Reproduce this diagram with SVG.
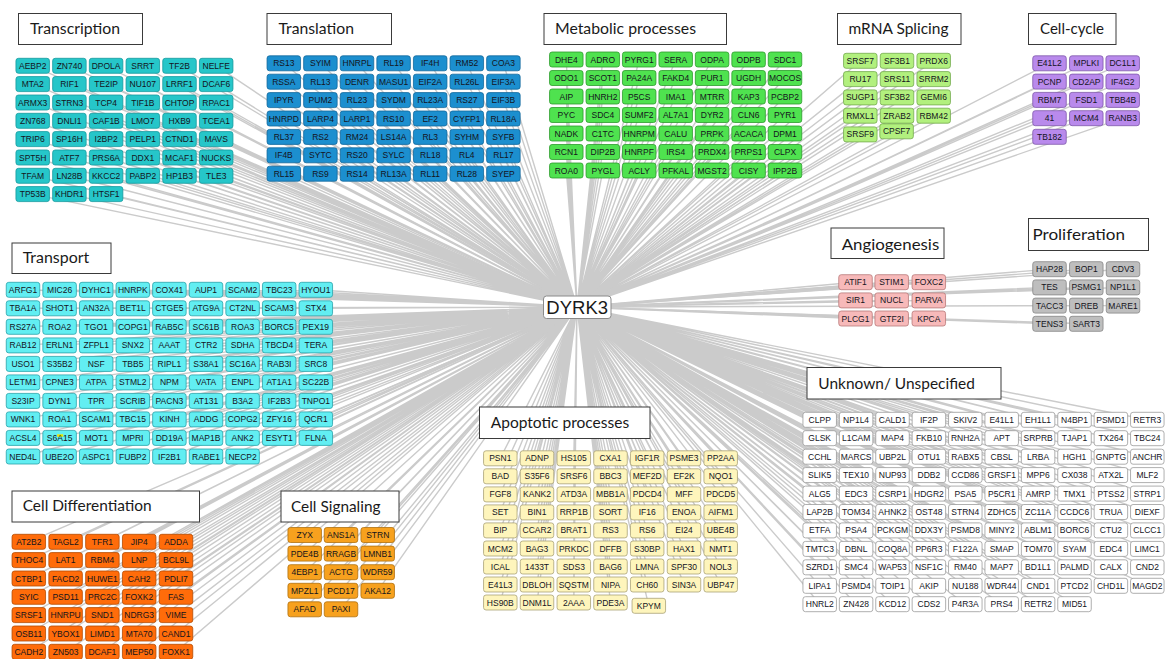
<svg xmlns="http://www.w3.org/2000/svg" xmlns:xlink="http://www.w3.org/1999/xlink" width="1166" height="659" viewBox="0 0 1166 659">
<style>
.edges path{fill:none;stroke:#cbcbcb;stroke-width:1.4}
.nodes use{stroke-width:0.8}
.nodes text{font-family:"Liberation Sans",Arial,sans-serif;font-size:8.5px;fill:#14141c;stroke:none;text-anchor:middle}
.tc{fill:#26c6c9;stroke:#159a9e}
.tl{fill:#1c8fcf;stroke:#11679a}
.mb{fill:#4fe24f;stroke:#2c9b2c}
.sp{fill:#b2f07e;stroke:#74aa4e}
.cc{fill:#b98aec;stroke:#7e58aa}
.tp{fill:#62eef2;stroke:#2aa2aa}
.cd{fill:#ff6c0a;stroke:#b44a00}
.cs{fill:#f7a11e;stroke:#b0700e}
.an{fill:#f7b9b9;stroke:#b77878}
.pr{fill:#bebebe;stroke:#858585}
.ap{fill:#fef5bc;stroke:#a9a277}
.un{fill:#ffffff;stroke:#9a9a9a}
.title rect{fill:#fff;stroke:#3a3a3a;stroke-width:1}
.title text{font-family:Lato,"Liberation Sans",sans-serif;font-size:16px;fill:#1a1a1a}
#hub rect{fill:#fff;stroke:#8a8a8a;stroke-width:1}
#hub text{font-family:"Liberation Sans",Arial,sans-serif;font-size:18.5px;fill:#1a1a1a;text-anchor:middle}
</style>
<defs>
<rect id="b" x="-16.75" y="-7.5" width="33.5" height="15" rx="2.5"/>
</defs>
<rect width="1166" height="659" fill="#fff"/>

<!-- spokes from DYRK3 to every protein -->
<g class="edges">
<path d="M577 307L32.7 65.8M577 307L69.4 65.8M577 307L106.1 65.8M577 307L142.8 65.8M577 307L179.5 65.8M577 307L216.2 65.8M577 307L32.7 84.1M577 307L69.4 84.1M577 307L106.1 84.1M577 307L142.8 84.1M577 307L179.5 84.1M577 307L216.2 84.1M577 307L32.7 102.5M577 307L69.4 102.5M577 307L106.1 102.5M577 307L142.8 102.5M577 307L179.5 102.5M577 307L216.2 102.5M577 307L32.7 120.8M577 307L69.4 120.8M577 307L106.1 120.8M577 307L142.8 120.8M577 307L179.5 120.8M577 307L216.2 120.8M577 307L32.7 139.1M577 307L69.4 139.1M577 307L106.1 139.1M577 307L142.8 139.1M577 307L179.5 139.1M577 307L216.2 139.1M577 307L32.7 157.5M577 307L69.4 157.5M577 307L106.1 157.5M577 307L142.8 157.5M577 307L179.5 157.5M577 307L216.2 157.5M577 307L32.7 175.8M577 307L69.4 175.8M577 307L106.1 175.8M577 307L142.8 175.8M577 307L179.5 175.8M577 307L216.2 175.8M577 307L32.7 194.1M577 307L69.4 194.1M577 307L106.1 194.1"/>
<path d="M577 307L283.8 63.3M577 307L320.4 63.3M577 307L357 63.3M577 307L393.6 63.3M577 307L430.2 63.3M577 307L466.8 63.3M577 307L503.4 63.3M577 307L283.8 81.7M577 307L320.4 81.7M577 307L357 81.7M577 307L393.6 81.7M577 307L430.2 81.7M577 307L466.8 81.7M577 307L503.4 81.7M577 307L283.8 100.1M577 307L320.4 100.1M577 307L357 100.1M577 307L393.6 100.1M577 307L430.2 100.1M577 307L466.8 100.1M577 307L503.4 100.1M577 307L283.8 118.5M577 307L320.4 118.5M577 307L357 118.5M577 307L393.6 118.5M577 307L430.2 118.5M577 307L466.8 118.5M577 307L503.4 118.5M577 307L283.8 136.9M577 307L320.4 136.9M577 307L357 136.9M577 307L393.6 136.9M577 307L430.2 136.9M577 307L466.8 136.9M577 307L503.4 136.9M577 307L283.8 155.3M577 307L320.4 155.3M577 307L357 155.3M577 307L393.6 155.3M577 307L430.2 155.3M577 307L466.8 155.3M577 307L503.4 155.3M577 307L283.8 173.7M577 307L320.4 173.7M577 307L357 173.7M577 307L393.6 173.7M577 307L430.2 173.7M577 307L466.8 173.7M577 307L503.4 173.7"/>
<path d="M577 307L566.3 59.5M577 307L602.8 59.5M577 307L639.2 59.5M577 307L675.7 59.5M577 307L712.1 59.5M577 307L748.6 59.5M577 307L785 59.5M577 307L566.3 78M577 307L602.8 78M577 307L639.2 78M577 307L675.7 78M577 307L712.1 78M577 307L748.6 78M577 307L785 78M577 307L566.3 96.5M577 307L602.8 96.5M577 307L639.2 96.5M577 307L675.7 96.5M577 307L712.1 96.5M577 307L748.6 96.5M577 307L785 96.5M577 307L566.3 115M577 307L602.8 115M577 307L639.2 115M577 307L675.7 115M577 307L712.1 115M577 307L748.6 115M577 307L785 115M577 307L566.3 133.5M577 307L602.8 133.5M577 307L639.2 133.5M577 307L675.7 133.5M577 307L712.1 133.5M577 307L748.6 133.5M577 307L785 133.5M577 307L566.3 152M577 307L602.8 152M577 307L639.2 152M577 307L675.7 152M577 307L712.1 152M577 307L748.6 152M577 307L785 152M577 307L566.3 170.5M577 307L602.8 170.5M577 307L639.2 170.5M577 307L675.7 170.5M577 307L712.1 170.5M577 307L748.6 170.5M577 307L785 170.5"/>
<path d="M577 307L860.3 60.8M577 307L897 60.8M577 307L933.7 60.8M577 307L860.3 79.1M577 307L897 79.1M577 307L933.7 79.1M577 307L860.3 97.4M577 307L897 97.4M577 307L933.7 97.4M577 307L860.3 115.7M577 307L897 115.7M577 307L933.7 115.7M577 307L860.3 134.4M577 307L896.6 131.3"/>
<path d="M577 307L1049.5 63.3M577 307L1086.3 63.3M577 307L1122.7 63.3M577 307L1049.5 81.6M577 307L1086.3 81.6M577 307L1122.7 81.6M577 307L1049.5 99.9M577 307L1086.3 99.9M577 307L1122.7 99.9M577 307L1049.5 118.2M577 307L1086.3 118.2M577 307L1122.7 118.2M577 307L1049.5 136.8"/>
<path d="M577 307L23 289.8M577 307L59.6 289.8M577 307L96.2 289.8M577 307L132.8 289.8M577 307L169.4 289.8M577 307L206 289.8M577 307L242.6 289.8M577 307L279.2 289.8M577 307L315.8 289.8M577 307L23 308.3M577 307L59.6 308.3M577 307L96.2 308.3M577 307L132.8 308.3M577 307L169.4 308.3M577 307L206 308.3M577 307L242.6 308.3M577 307L279.2 308.3M577 307L315.8 308.3M577 307L23 326.8M577 307L59.6 326.8M577 307L96.2 326.8M577 307L132.8 326.8M577 307L169.4 326.8M577 307L206 326.8M577 307L242.6 326.8M577 307L279.2 326.8M577 307L315.8 326.8M577 307L23 345.4M577 307L59.6 345.4M577 307L96.2 345.4M577 307L132.8 345.4M577 307L169.4 345.4M577 307L206 345.4M577 307L242.6 345.4M577 307L279.2 345.4M577 307L315.8 345.4M577 307L23 363.9M577 307L59.6 363.9M577 307L96.2 363.9M577 307L132.8 363.9M577 307L169.4 363.9M577 307L206 363.9M577 307L242.6 363.9M577 307L279.2 363.9M577 307L315.8 363.9M577 307L23 382.4M577 307L59.6 382.4M577 307L96.2 382.4M577 307L132.8 382.4M577 307L169.4 382.4M577 307L206 382.4M577 307L242.6 382.4M577 307L279.2 382.4M577 307L315.8 382.4M577 307L23 400.9M577 307L59.6 400.9M577 307L96.2 400.9M577 307L132.8 400.9M577 307L169.4 400.9M577 307L206 400.9M577 307L242.6 400.9M577 307L279.2 400.9M577 307L315.8 400.9M577 307L23 419.4M577 307L59.6 419.4M577 307L96.2 419.4M577 307L132.8 419.4M577 307L169.4 419.4M577 307L206 419.4M577 307L242.6 419.4M577 307L279.2 419.4M577 307L315.8 419.4M577 307L23 437.9M577 307L59.6 437.9M577 307L96.2 437.9M577 307L132.8 437.9M577 307L169.4 437.9M577 307L206 437.9M577 307L242.6 437.9M577 307L279.2 437.9M577 307L315.8 437.9M577 307L23 456.5M577 307L59.6 456.5M577 307L96.2 456.5M577 307L132.8 456.5M577 307L169.4 456.5M577 307L206 456.5M577 307L242.6 456.5"/>
<path d="M577 307L28.8 541.8M577 307L65.6 541.8M577 307L102.4 541.8M577 307L139.2 541.8M577 307L176 541.8M577 307L28.8 560.1M577 307L65.6 560.1M577 307L102.4 560.1M577 307L139.2 560.1M577 307L176 560.1M577 307L28.8 578.5M577 307L65.6 578.5M577 307L102.4 578.5M577 307L139.2 578.5M577 307L176 578.5M577 307L28.8 596.8M577 307L65.6 596.8M577 307L102.4 596.8M577 307L139.2 596.8M577 307L176 596.8M577 307L28.8 615.1M577 307L65.6 615.1M577 307L102.4 615.1M577 307L139.2 615.1M577 307L176 615.1M577 307L28.8 633.5M577 307L65.6 633.5M577 307L102.4 633.5M577 307L139.2 633.5M577 307L176 633.5M577 307L28.8 651.8M577 307L65.6 651.8M577 307L102.4 651.8M577 307L139.2 651.8M577 307L176 651.8"/>
<path d="M577 307L304.7 535M577 307L341 535M577 307L377.7 535M577 307L304.7 553.6M577 307L341 553.6M577 307L377.7 553.6M577 307L304.7 572.2M577 307L341 572.2M577 307L377.7 572.2M577 307L304.7 590.8M577 307L341 590.8M577 307L377.7 590.8M577 307L304.7 609.3M577 307L341 609.3"/>
<path d="M577 307L855.5 282.2M577 307L891.7 282.2M577 307L928.8 282.2M577 307L855.5 300.4M577 307L891.7 300.4M577 307L928.8 300.4M577 307L855.5 318.5M577 307L891.7 318.5M577 307L928.8 318.5"/>
<path d="M577 307L1049.5 269.2M577 307L1086.3 269.2M577 307L1123 269.2M577 307L1049.5 287.4M577 307L1086.3 287.4M577 307L1123 287.4M577 307L1049.5 305.6M577 307L1086.3 305.6M577 307L1123 305.6M577 307L1049.5 323.8M577 307L1086.3 323.8"/>
<path d="M577 307L500.3 458.3M577 307L537 458.3M577 307L573.8 458.3M577 307L610.5 458.3M577 307L647.2 458.3M577 307L684 458.3M577 307L720.7 458.3M577 307L500.3 476.3M577 307L537 476.3M577 307L573.8 476.3M577 307L610.5 476.3M577 307L647.2 476.3M577 307L684 476.3M577 307L720.7 476.3M577 307L500.3 494.4M577 307L537 494.4M577 307L573.8 494.4M577 307L610.5 494.4M577 307L647.2 494.4M577 307L684 494.4M577 307L720.7 494.4M577 307L500.3 512.4M577 307L537 512.4M577 307L573.8 512.4M577 307L610.5 512.4M577 307L647.2 512.4M577 307L684 512.4M577 307L720.7 512.4M577 307L500.3 530.4M577 307L537 530.4M577 307L573.8 530.4M577 307L610.5 530.4M577 307L647.2 530.4M577 307L684 530.4M577 307L720.7 530.4M577 307L500.3 548.5M577 307L537 548.5M577 307L573.8 548.5M577 307L610.5 548.5M577 307L647.2 548.5M577 307L684 548.5M577 307L720.7 548.5M577 307L500.3 566.5M577 307L537 566.5M577 307L573.8 566.5M577 307L610.5 566.5M577 307L647.2 566.5M577 307L684 566.5M577 307L720.7 566.5M577 307L500.3 584.5M577 307L537 584.5M577 307L573.8 584.5M577 307L610.5 584.5M577 307L647.2 584.5M577 307L684 584.5M577 307L720.7 584.5M577 307L500.3 602.5M577 307L537 602.5M577 307L573.8 602.5M577 307L610.5 602.5M577 307L648.8 605.8"/>
<path d="M577 307L819.7 419.8M577 307L856.1 419.8M577 307L892.5 419.8M577 307L928.9 419.8M577 307L965.3 419.8M577 307L1001.7 419.8M577 307L1038.1 419.8M577 307L1074.5 419.8M577 307L1110.9 419.8M577 307L1147.3 419.8M577 307L819.7 438.2M577 307L856.1 438.2M577 307L892.5 438.2M577 307L928.9 438.2M577 307L965.3 438.2M577 307L1001.7 438.2M577 307L1038.1 438.2M577 307L1074.5 438.2M577 307L1110.9 438.2M577 307L1147.3 438.2M577 307L819.7 456.7M577 307L856.1 456.7M577 307L892.5 456.7M577 307L928.9 456.7M577 307L965.3 456.7M577 307L1001.7 456.7M577 307L1038.1 456.7M577 307L1074.5 456.7M577 307L1110.9 456.7M577 307L1147.3 456.7M577 307L819.7 475.1M577 307L856.1 475.1M577 307L892.5 475.1M577 307L928.9 475.1M577 307L965.3 475.1M577 307L1001.7 475.1M577 307L1038.1 475.1M577 307L1074.5 475.1M577 307L1110.9 475.1M577 307L1147.3 475.1M577 307L819.7 493.6M577 307L856.1 493.6M577 307L892.5 493.6M577 307L928.9 493.6M577 307L965.3 493.6M577 307L1001.7 493.6M577 307L1038.1 493.6M577 307L1074.5 493.6M577 307L1110.9 493.6M577 307L1147.3 493.6M577 307L819.7 512M577 307L856.1 512M577 307L892.5 512M577 307L928.9 512M577 307L965.3 512M577 307L1001.7 512M577 307L1038.1 512M577 307L1074.5 512M577 307L1110.9 512M577 307L1147.3 512M577 307L819.7 530.4M577 307L856.1 530.4M577 307L892.5 530.4M577 307L928.9 530.4M577 307L965.3 530.4M577 307L1001.7 530.4M577 307L1038.1 530.4M577 307L1074.5 530.4M577 307L1110.9 530.4M577 307L1147.3 530.4M577 307L819.7 548.9M577 307L856.1 548.9M577 307L892.5 548.9M577 307L928.9 548.9M577 307L965.3 548.9M577 307L1001.7 548.9M577 307L1038.1 548.9M577 307L1074.5 548.9M577 307L1110.9 548.9M577 307L1147.3 548.9M577 307L819.7 567.3M577 307L856.1 567.3M577 307L892.5 567.3M577 307L928.9 567.3M577 307L965.3 567.3M577 307L1001.7 567.3M577 307L1038.1 567.3M577 307L1074.5 567.3M577 307L1110.9 567.3M577 307L1147.3 567.3M577 307L819.7 585.8M577 307L856.1 585.8M577 307L892.5 585.8M577 307L928.9 585.8M577 307L965.3 585.8M577 307L1001.7 585.8M577 307L1038.1 585.8M577 307L1074.5 585.8M577 307L1110.9 585.8M577 307L1147.3 585.8M577 307L819.7 604.2M577 307L856.1 604.2M577 307L892.5 604.2M577 307L928.9 604.2M577 307L965.3 604.2M577 307L1001.7 604.2M577 307L1038.1 604.2M577 307L1074.5 604.2"/>
</g>

<g class="nodes">
<!-- Transcription -->
<g class="tc">
<g id="n-AEBP2" transform="translate(32.7 65.8)"><use href="#b"/><text y="3">AEBP2</text></g>
<g id="n-ZN740" transform="translate(69.4 65.8)"><use href="#b"/><text y="3">ZN740</text></g>
<g id="n-DPOLA" transform="translate(106.1 65.8)"><use href="#b"/><text y="3">DPOLA</text></g>
<g id="n-SRRT" transform="translate(142.8 65.8)"><use href="#b"/><text y="3">SRRT</text></g>
<g id="n-TF2B" transform="translate(179.5 65.8)"><use href="#b"/><text y="3">TF2B</text></g>
<g id="n-NELFE" transform="translate(216.2 65.8)"><use href="#b"/><text y="3">NELFE</text></g>
<g id="n-MTA2" transform="translate(32.7 84.1)"><use href="#b"/><text y="3">MTA2</text></g>
<g id="n-RIF1" transform="translate(69.4 84.1)"><use href="#b"/><text y="3">RIF1</text></g>
<g id="n-TE2IP" transform="translate(106.1 84.1)"><use href="#b"/><text y="3">TE2IP</text></g>
<g id="n-NU107" transform="translate(142.8 84.1)"><use href="#b"/><text y="3">NU107</text></g>
<g id="n-LRRF1" transform="translate(179.5 84.1)"><use href="#b"/><text y="3">LRRF1</text></g>
<g id="n-DCAF6" transform="translate(216.2 84.1)"><use href="#b"/><text y="3">DCAF6</text></g>
<g id="n-ARMX3" transform="translate(32.7 102.5)"><use href="#b"/><text y="3">ARMX3</text></g>
<g id="n-STRN3" transform="translate(69.4 102.5)"><use href="#b"/><text y="3">STRN3</text></g>
<g id="n-TCP4" transform="translate(106.1 102.5)"><use href="#b"/><text y="3">TCP4</text></g>
<g id="n-TIF1B" transform="translate(142.8 102.5)"><use href="#b"/><text y="3">TIF1B</text></g>
<g id="n-CHTOP" transform="translate(179.5 102.5)"><use href="#b"/><text y="3">CHTOP</text></g>
<g id="n-RPAC1" transform="translate(216.2 102.5)"><use href="#b"/><text y="3">RPAC1</text></g>
<g id="n-ZN768" transform="translate(32.7 120.8)"><use href="#b"/><text y="3">ZN768</text></g>
<g id="n-DNLI1" transform="translate(69.4 120.8)"><use href="#b"/><text y="3">DNLI1</text></g>
<g id="n-CAF1B" transform="translate(106.1 120.8)"><use href="#b"/><text y="3">CAF1B</text></g>
<g id="n-LMO7" transform="translate(142.8 120.8)"><use href="#b"/><text y="3">LMO7</text></g>
<g id="n-HXB9" transform="translate(179.5 120.8)"><use href="#b"/><text y="3">HXB9</text></g>
<g id="n-TCEA1" transform="translate(216.2 120.8)"><use href="#b"/><text y="3">TCEA1</text></g>
<g id="n-TRIP6" transform="translate(32.7 139.1)"><use href="#b"/><text y="3">TRIP6</text></g>
<g id="n-SP16H" transform="translate(69.4 139.1)"><use href="#b"/><text y="3">SP16H</text></g>
<g id="n-I2BP2" transform="translate(106.1 139.1)"><use href="#b"/><text y="3">I2BP2</text></g>
<g id="n-PELP1" transform="translate(142.8 139.1)"><use href="#b"/><text y="3">PELP1</text></g>
<g id="n-CTND1" transform="translate(179.5 139.1)"><use href="#b"/><text y="3">CTND1</text></g>
<g id="n-MAVS" transform="translate(216.2 139.1)"><use href="#b"/><text y="3">MAVS</text></g>
<g id="n-SPT5H" transform="translate(32.7 157.5)"><use href="#b"/><text y="3">SPT5H</text></g>
<g id="n-ATF7" transform="translate(69.4 157.5)"><use href="#b"/><text y="3">ATF7</text></g>
<g id="n-PRS6A" transform="translate(106.1 157.5)"><use href="#b"/><text y="3">PRS6A</text></g>
<g id="n-DDX1" transform="translate(142.8 157.5)"><use href="#b"/><text y="3">DDX1</text></g>
<g id="n-MCAF1" transform="translate(179.5 157.5)"><use href="#b"/><text y="3">MCAF1</text></g>
<g id="n-NUCKS" transform="translate(216.2 157.5)"><use href="#b"/><text y="3">NUCKS</text></g>
<g id="n-TFAM" transform="translate(32.7 175.8)"><use href="#b"/><text y="3">TFAM</text></g>
<g id="n-LN28B" transform="translate(69.4 175.8)"><use href="#b"/><text y="3">LN28B</text></g>
<g id="n-KKCC2" transform="translate(106.1 175.8)"><use href="#b"/><text y="3">KKCC2</text></g>
<g id="n-PABP2" transform="translate(142.8 175.8)"><use href="#b"/><text y="3">PABP2</text></g>
<g id="n-HP1B3" transform="translate(179.5 175.8)"><use href="#b"/><text y="3">HP1B3</text></g>
<g id="n-TLE3" transform="translate(216.2 175.8)"><use href="#b"/><text y="3">TLE3</text></g>
<g id="n-TP53B" transform="translate(32.7 194.1)"><use href="#b"/><text y="3">TP53B</text></g>
<g id="n-KHDR1" transform="translate(69.4 194.1)"><use href="#b"/><text y="3">KHDR1</text></g>
<g id="n-HTSF1" transform="translate(106.1 194.1)"><use href="#b"/><text y="3">HTSF1</text></g>
</g>

<!-- Translation -->
<g class="tl">
<g id="n-RS13" transform="translate(283.8 63.3)"><use href="#b"/><text y="3">RS13</text></g>
<g id="n-SYIM" transform="translate(320.4 63.3)"><use href="#b"/><text y="3">SYIM</text></g>
<g id="n-HNRPL" transform="translate(357 63.3)"><use href="#b"/><text y="3">HNRPL</text></g>
<g id="n-RL19" transform="translate(393.6 63.3)"><use href="#b"/><text y="3">RL19</text></g>
<g id="n-IF4H" transform="translate(430.2 63.3)"><use href="#b"/><text y="3">IF4H</text></g>
<g id="n-RM52" transform="translate(466.8 63.3)"><use href="#b"/><text y="3">RM52</text></g>
<g id="n-COA3" transform="translate(503.4 63.3)"><use href="#b"/><text y="3">COA3</text></g>
<g id="n-RSSA" transform="translate(283.8 81.7)"><use href="#b"/><text y="3">RSSA</text></g>
<g id="n-RL13" transform="translate(320.4 81.7)"><use href="#b"/><text y="3">RL13</text></g>
<g id="n-DENR" transform="translate(357 81.7)"><use href="#b"/><text y="3">DENR</text></g>
<g id="n-MASU1" transform="translate(393.6 81.7)"><use href="#b"/><text y="3">MASU1</text></g>
<g id="n-EIF2A" transform="translate(430.2 81.7)"><use href="#b"/><text y="3">EIF2A</text></g>
<g id="n-RL26L" transform="translate(466.8 81.7)"><use href="#b"/><text y="3">RL26L</text></g>
<g id="n-EIF3A" transform="translate(503.4 81.7)"><use href="#b"/><text y="3">EIF3A</text></g>
<g id="n-IPYR" transform="translate(283.8 100.1)"><use href="#b"/><text y="3">IPYR</text></g>
<g id="n-PUM2" transform="translate(320.4 100.1)"><use href="#b"/><text y="3">PUM2</text></g>
<g id="n-RL23" transform="translate(357 100.1)"><use href="#b"/><text y="3">RL23</text></g>
<g id="n-SYDM" transform="translate(393.6 100.1)"><use href="#b"/><text y="3">SYDM</text></g>
<g id="n-RL23A" transform="translate(430.2 100.1)"><use href="#b"/><text y="3">RL23A</text></g>
<g id="n-RS27" transform="translate(466.8 100.1)"><use href="#b"/><text y="3">RS27</text></g>
<g id="n-EIF3B" transform="translate(503.4 100.1)"><use href="#b"/><text y="3">EIF3B</text></g>
<g id="n-HNRPD" transform="translate(283.8 118.5)"><use href="#b"/><text y="3">HNRPD</text></g>
<g id="n-LARP4" transform="translate(320.4 118.5)"><use href="#b"/><text y="3">LARP4</text></g>
<g id="n-LARP1" transform="translate(357 118.5)"><use href="#b"/><text y="3">LARP1</text></g>
<g id="n-RS10" transform="translate(393.6 118.5)"><use href="#b"/><text y="3">RS10</text></g>
<g id="n-EF2" transform="translate(430.2 118.5)"><use href="#b"/><text y="3">EF2</text></g>
<g id="n-CYFP1" transform="translate(466.8 118.5)"><use href="#b"/><text y="3">CYFP1</text></g>
<g id="n-RL18A" transform="translate(503.4 118.5)"><use href="#b"/><text y="3">RL18A</text></g>
<g id="n-RL37" transform="translate(283.8 136.9)"><use href="#b"/><text y="3">RL37</text></g>
<g id="n-RS2" transform="translate(320.4 136.9)"><use href="#b"/><text y="3">RS2</text></g>
<g id="n-RM24" transform="translate(357 136.9)"><use href="#b"/><text y="3">RM24</text></g>
<g id="n-LS14A" transform="translate(393.6 136.9)"><use href="#b"/><text y="3">LS14A</text></g>
<g id="n-RL3" transform="translate(430.2 136.9)"><use href="#b"/><text y="3">RL3</text></g>
<g id="n-SYHM" transform="translate(466.8 136.9)"><use href="#b"/><text y="3">SYHM</text></g>
<g id="n-SYFB" transform="translate(503.4 136.9)"><use href="#b"/><text y="3">SYFB</text></g>
<g id="n-IF4B" transform="translate(283.8 155.3)"><use href="#b"/><text y="3">IF4B</text></g>
<g id="n-SYTC" transform="translate(320.4 155.3)"><use href="#b"/><text y="3">SYTC</text></g>
<g id="n-RS20" transform="translate(357 155.3)"><use href="#b"/><text y="3">RS20</text></g>
<g id="n-SYLC" transform="translate(393.6 155.3)"><use href="#b"/><text y="3">SYLC</text></g>
<g id="n-RL18" transform="translate(430.2 155.3)"><use href="#b"/><text y="3">RL18</text></g>
<g id="n-RL4" transform="translate(466.8 155.3)"><use href="#b"/><text y="3">RL4</text></g>
<g id="n-RL17" transform="translate(503.4 155.3)"><use href="#b"/><text y="3">RL17</text></g>
<g id="n-RL15" transform="translate(283.8 173.7)"><use href="#b"/><text y="3">RL15</text></g>
<g id="n-RS9" transform="translate(320.4 173.7)"><use href="#b"/><text y="3">RS9</text></g>
<g id="n-RS14" transform="translate(357 173.7)"><use href="#b"/><text y="3">RS14</text></g>
<g id="n-RL13A" transform="translate(393.6 173.7)"><use href="#b"/><text y="3">RL13A</text></g>
<g id="n-RL11" transform="translate(430.2 173.7)"><use href="#b"/><text y="3">RL11</text></g>
<g id="n-RL28" transform="translate(466.8 173.7)"><use href="#b"/><text y="3">RL28</text></g>
<g id="n-SYEP" transform="translate(503.4 173.7)"><use href="#b"/><text y="3">SYEP</text></g>
</g>

<!-- Metabolic processes -->
<g class="mb">
<g id="n-DHE4" transform="translate(566.3 59.5)"><use href="#b"/><text y="3">DHE4</text></g>
<g id="n-ADRO" transform="translate(602.8 59.5)"><use href="#b"/><text y="3">ADRO</text></g>
<g id="n-PYRG1" transform="translate(639.2 59.5)"><use href="#b"/><text y="3">PYRG1</text></g>
<g id="n-SERA" transform="translate(675.7 59.5)"><use href="#b"/><text y="3">SERA</text></g>
<g id="n-ODPA" transform="translate(712.1 59.5)"><use href="#b"/><text y="3">ODPA</text></g>
<g id="n-ODPB" transform="translate(748.6 59.5)"><use href="#b"/><text y="3">ODPB</text></g>
<g id="n-SDC1" transform="translate(785 59.5)"><use href="#b"/><text y="3">SDC1</text></g>
<g id="n-ODO1" transform="translate(566.3 78)"><use href="#b"/><text y="3">ODO1</text></g>
<g id="n-SCOT1" transform="translate(602.8 78)"><use href="#b"/><text y="3">SCOT1</text></g>
<g id="n-PA24A" transform="translate(639.2 78)"><use href="#b"/><text y="3">PA24A</text></g>
<g id="n-FAKD4" transform="translate(675.7 78)"><use href="#b"/><text y="3">FAKD4</text></g>
<g id="n-PUR1" transform="translate(712.1 78)"><use href="#b"/><text y="3">PUR1</text></g>
<g id="n-UGDH" transform="translate(748.6 78)"><use href="#b"/><text y="3">UGDH</text></g>
<g id="n-MOCOS" transform="translate(785 78)"><use href="#b"/><text y="3">MOCOS</text></g>
<g id="n-AIP" transform="translate(566.3 96.5)"><use href="#b"/><text y="3">AIP</text></g>
<g id="n-HNRH2" transform="translate(602.8 96.5)"><use href="#b"/><text y="3">HNRH2</text></g>
<g id="n-P5CS" transform="translate(639.2 96.5)"><use href="#b"/><text y="3">P5CS</text></g>
<g id="n-IMA1" transform="translate(675.7 96.5)"><use href="#b"/><text y="3">IMA1</text></g>
<g id="n-MTRR" transform="translate(712.1 96.5)"><use href="#b"/><text y="3">MTRR</text></g>
<g id="n-KAP3" transform="translate(748.6 96.5)"><use href="#b"/><text y="3">KAP3</text></g>
<g id="n-PCBP2" transform="translate(785 96.5)"><use href="#b"/><text y="3">PCBP2</text></g>
<g id="n-PYC" transform="translate(566.3 115)"><use href="#b"/><text y="3">PYC</text></g>
<g id="n-SDC4" transform="translate(602.8 115)"><use href="#b"/><text y="3">SDC4</text></g>
<g id="n-SUMF2" transform="translate(639.2 115)"><use href="#b"/><text y="3">SUMF2</text></g>
<g id="n-AL7A1" transform="translate(675.7 115)"><use href="#b"/><text y="3">AL7A1</text></g>
<g id="n-DYR2" transform="translate(712.1 115)"><use href="#b"/><text y="3">DYR2</text></g>
<g id="n-CLN6" transform="translate(748.6 115)"><use href="#b"/><text y="3">CLN6</text></g>
<g id="n-PYR1" transform="translate(785 115)"><use href="#b"/><text y="3">PYR1</text></g>
<g id="n-NADK" transform="translate(566.3 133.5)"><use href="#b"/><text y="3">NADK</text></g>
<g id="n-C1TC" transform="translate(602.8 133.5)"><use href="#b"/><text y="3">C1TC</text></g>
<g id="n-HNRPM" transform="translate(639.2 133.5)"><use href="#b"/><text y="3">HNRPM</text></g>
<g id="n-CALU" transform="translate(675.7 133.5)"><use href="#b"/><text y="3">CALU</text></g>
<g id="n-PRPK" transform="translate(712.1 133.5)"><use href="#b"/><text y="3">PRPK</text></g>
<g id="n-ACACA" transform="translate(748.6 133.5)"><use href="#b"/><text y="3">ACACA</text></g>
<g id="n-DPM1" transform="translate(785 133.5)"><use href="#b"/><text y="3">DPM1</text></g>
<g id="n-RCN1" transform="translate(566.3 152)"><use href="#b"/><text y="3">RCN1</text></g>
<g id="n-DIP2B" transform="translate(602.8 152)"><use href="#b"/><text y="3">DIP2B</text></g>
<g id="n-HNRPF" transform="translate(639.2 152)"><use href="#b"/><text y="3">HNRPF</text></g>
<g id="n-IRS4" transform="translate(675.7 152)"><use href="#b"/><text y="3">IRS4</text></g>
<g id="n-PRDX4" transform="translate(712.1 152)"><use href="#b"/><text y="3">PRDX4</text></g>
<g id="n-PRPS1" transform="translate(748.6 152)"><use href="#b"/><text y="3">PRPS1</text></g>
<g id="n-CLPX" transform="translate(785 152)"><use href="#b"/><text y="3">CLPX</text></g>
<g id="n-ROA0" transform="translate(566.3 170.5)"><use href="#b"/><text y="3">ROA0</text></g>
<g id="n-PYGL" transform="translate(602.8 170.5)"><use href="#b"/><text y="3">PYGL</text></g>
<g id="n-ACLY" transform="translate(639.2 170.5)"><use href="#b"/><text y="3">ACLY</text></g>
<g id="n-PFKAL" transform="translate(675.7 170.5)"><use href="#b"/><text y="3">PFKAL</text></g>
<g id="n-MGST2" transform="translate(712.1 170.5)"><use href="#b"/><text y="3">MGST2</text></g>
<g id="n-CISY" transform="translate(748.6 170.5)"><use href="#b"/><text y="3">CISY</text></g>
<g id="n-IPP2B" transform="translate(785 170.5)"><use href="#b"/><text y="3">IPP2B</text></g>
</g>

<!-- mRNA Splicing -->
<g class="sp">
<g id="n-SRSF7" transform="translate(860.3 60.8)"><use href="#b"/><text y="3">SRSF7</text></g>
<g id="n-SF3B1" transform="translate(897 60.8)"><use href="#b"/><text y="3">SF3B1</text></g>
<g id="n-PRDX6" transform="translate(933.7 60.8)"><use href="#b"/><text y="3">PRDX6</text></g>
<g id="n-RU17" transform="translate(860.3 79.1)"><use href="#b"/><text y="3">RU17</text></g>
<g id="n-SRS11" transform="translate(897 79.1)"><use href="#b"/><text y="3">SRS11</text></g>
<g id="n-SRRM2" transform="translate(933.7 79.1)"><use href="#b"/><text y="3">SRRM2</text></g>
<g id="n-SUGP1" transform="translate(860.3 97.4)"><use href="#b"/><text y="3">SUGP1</text></g>
<g id="n-SF3B2" transform="translate(897 97.4)"><use href="#b"/><text y="3">SF3B2</text></g>
<g id="n-GEMI6" transform="translate(933.7 97.4)"><use href="#b"/><text y="3">GEMI6</text></g>
<g id="n-RMXL1" transform="translate(860.3 115.7)"><use href="#b"/><text y="3">RMXL1</text></g>
<g id="n-ZRAB2" transform="translate(897 115.7)"><use href="#b"/><text y="3">ZRAB2</text></g>
<g id="n-RBM42" transform="translate(933.7 115.7)"><use href="#b"/><text y="3">RBM42</text></g>
<g id="n-SRSF9" transform="translate(860.3 134.4)"><use href="#b"/><text y="3">SRSF9</text></g>
<g id="n-CPSF7" transform="translate(896.6 131.3)"><use href="#b"/><text y="3">CPSF7</text></g>
</g>

<!-- Cell-cycle -->
<g class="cc">
<g id="n-E41L2" transform="translate(1049.5 63.3)"><use href="#b"/><text y="3">E41L2</text></g>
<g id="n-MPLKI" transform="translate(1086.3 63.3)"><use href="#b"/><text y="3">MPLKI</text></g>
<g id="n-DC1L1" transform="translate(1122.7 63.3)"><use href="#b"/><text y="3">DC1L1</text></g>
<g id="n-PCNP" transform="translate(1049.5 81.6)"><use href="#b"/><text y="3">PCNP</text></g>
<g id="n-CD2AP" transform="translate(1086.3 81.6)"><use href="#b"/><text y="3">CD2AP</text></g>
<g id="n-IF4G2" transform="translate(1122.7 81.6)"><use href="#b"/><text y="3">IF4G2</text></g>
<g id="n-RBM7" transform="translate(1049.5 99.9)"><use href="#b"/><text y="3">RBM7</text></g>
<g id="n-FSD1" transform="translate(1086.3 99.9)"><use href="#b"/><text y="3">FSD1</text></g>
<g id="n-TBB4B" transform="translate(1122.7 99.9)"><use href="#b"/><text y="3">TBB4B</text></g>
<g id="n-41" transform="translate(1049.5 118.2)"><use href="#b"/><text y="3">41</text></g>
<g id="n-MCM4" transform="translate(1086.3 118.2)"><use href="#b"/><text y="3">MCM4</text></g>
<g id="n-RANB3" transform="translate(1122.7 118.2)"><use href="#b"/><text y="3">RANB3</text></g>
<g id="n-TB182" transform="translate(1049.5 136.8)"><use href="#b"/><text y="3">TB182</text></g>
</g>

<!-- Transport -->
<g class="tp">
<g id="n-ARFG1" transform="translate(23 289.8)"><use href="#b"/><text y="3">ARFG1</text></g>
<g id="n-MIC26" transform="translate(59.6 289.8)"><use href="#b"/><text y="3">MIC26</text></g>
<g id="n-DYHC1" transform="translate(96.2 289.8)"><use href="#b"/><text y="3">DYHC1</text></g>
<g id="n-HNRPK" transform="translate(132.8 289.8)"><use href="#b"/><text y="3">HNRPK</text></g>
<g id="n-COX41" transform="translate(169.4 289.8)"><use href="#b"/><text y="3">COX41</text></g>
<g id="n-AUP1" transform="translate(206 289.8)"><use href="#b"/><text y="3">AUP1</text></g>
<g id="n-SCAM2" transform="translate(242.6 289.8)"><use href="#b"/><text y="3">SCAM2</text></g>
<g id="n-TBC23" transform="translate(279.2 289.8)"><use href="#b"/><text y="3">TBC23</text></g>
<g id="n-HYOU1" transform="translate(315.8 289.8)"><use href="#b"/><text y="3">HYOU1</text></g>
<g id="n-TBA1A" transform="translate(23 308.3)"><use href="#b"/><text y="3">TBA1A</text></g>
<g id="n-SHOT1" transform="translate(59.6 308.3)"><use href="#b"/><text y="3">SHOT1</text></g>
<g id="n-AN32A" transform="translate(96.2 308.3)"><use href="#b"/><text y="3">AN32A</text></g>
<g id="n-BET1L" transform="translate(132.8 308.3)"><use href="#b"/><text y="3">BET1L</text></g>
<g id="n-CTGE5" transform="translate(169.4 308.3)"><use href="#b"/><text y="3">CTGE5</text></g>
<g id="n-ATG9A" transform="translate(206 308.3)"><use href="#b"/><text y="3">ATG9A</text></g>
<g id="n-CT2NL" transform="translate(242.6 308.3)"><use href="#b"/><text y="3">CT2NL</text></g>
<g id="n-SCAM3" transform="translate(279.2 308.3)"><use href="#b"/><text y="3">SCAM3</text></g>
<g id="n-STX4" transform="translate(315.8 308.3)"><use href="#b"/><text y="3">STX4</text></g>
<g id="n-RS27A" transform="translate(23 326.8)"><use href="#b"/><text y="3">RS27A</text></g>
<g id="n-ROA2" transform="translate(59.6 326.8)"><use href="#b"/><text y="3">ROA2</text></g>
<g id="n-TGO1" transform="translate(96.2 326.8)"><use href="#b"/><text y="3">TGO1</text></g>
<g id="n-COPG1" transform="translate(132.8 326.8)"><use href="#b"/><text y="3">COPG1</text></g>
<g id="n-RAB5C" transform="translate(169.4 326.8)"><use href="#b"/><text y="3">RAB5C</text></g>
<g id="n-SC61B" transform="translate(206 326.8)"><use href="#b"/><text y="3">SC61B</text></g>
<g id="n-ROA3" transform="translate(242.6 326.8)"><use href="#b"/><text y="3">ROA3</text></g>
<g id="n-BORC5" transform="translate(279.2 326.8)"><use href="#b"/><text y="3">BORC5</text></g>
<g id="n-PEX19" transform="translate(315.8 326.8)"><use href="#b"/><text y="3">PEX19</text></g>
<g id="n-RAB12" transform="translate(23 345.4)"><use href="#b"/><text y="3">RAB12</text></g>
<g id="n-ERLN1" transform="translate(59.6 345.4)"><use href="#b"/><text y="3">ERLN1</text></g>
<g id="n-ZFPL1" transform="translate(96.2 345.4)"><use href="#b"/><text y="3">ZFPL1</text></g>
<g id="n-SNX2" transform="translate(132.8 345.4)"><use href="#b"/><text y="3">SNX2</text></g>
<g id="n-AAAT" transform="translate(169.4 345.4)"><use href="#b"/><text y="3">AAAT</text></g>
<g id="n-CTR2" transform="translate(206 345.4)"><use href="#b"/><text y="3">CTR2</text></g>
<g id="n-SDHA" transform="translate(242.6 345.4)"><use href="#b"/><text y="3">SDHA</text></g>
<g id="n-TBCD4" transform="translate(279.2 345.4)"><use href="#b"/><text y="3">TBCD4</text></g>
<g id="n-TERA" transform="translate(315.8 345.4)"><use href="#b"/><text y="3">TERA</text></g>
<g id="n-USO1" transform="translate(23 363.9)"><use href="#b"/><text y="3">USO1</text></g>
<g id="n-S35B2" transform="translate(59.6 363.9)"><use href="#b"/><text y="3">S35B2</text></g>
<g id="n-NSF" transform="translate(96.2 363.9)"><use href="#b"/><text y="3">NSF</text></g>
<g id="n-TBB5" transform="translate(132.8 363.9)"><use href="#b"/><text y="3">TBB5</text></g>
<g id="n-RIPL1" transform="translate(169.4 363.9)"><use href="#b"/><text y="3">RIPL1</text></g>
<g id="n-S38A1" transform="translate(206 363.9)"><use href="#b"/><text y="3">S38A1</text></g>
<g id="n-SC16A" transform="translate(242.6 363.9)"><use href="#b"/><text y="3">SC16A</text></g>
<g id="n-RAB3I" transform="translate(279.2 363.9)"><use href="#b"/><text y="3">RAB3I</text></g>
<g id="n-SRC8" transform="translate(315.8 363.9)"><use href="#b"/><text y="3">SRC8</text></g>
<g id="n-LETM1" transform="translate(23 382.4)"><use href="#b"/><text y="3">LETM1</text></g>
<g id="n-CPNE3" transform="translate(59.6 382.4)"><use href="#b"/><text y="3">CPNE3</text></g>
<g id="n-ATPA" transform="translate(96.2 382.4)"><use href="#b"/><text y="3">ATPA</text></g>
<g id="n-STML2" transform="translate(132.8 382.4)"><use href="#b"/><text y="3">STML2</text></g>
<g id="n-NPM" transform="translate(169.4 382.4)"><use href="#b"/><text y="3">NPM</text></g>
<g id="n-VATA" transform="translate(206 382.4)"><use href="#b"/><text y="3">VATA</text></g>
<g id="n-ENPL" transform="translate(242.6 382.4)"><use href="#b"/><text y="3">ENPL</text></g>
<g id="n-AT1A1" transform="translate(279.2 382.4)"><use href="#b"/><text y="3">AT1A1</text></g>
<g id="n-SC22B" transform="translate(315.8 382.4)"><use href="#b"/><text y="3">SC22B</text></g>
<g id="n-S23IP" transform="translate(23 400.9)"><use href="#b"/><text y="3">S23IP</text></g>
<g id="n-DYN1" transform="translate(59.6 400.9)"><use href="#b"/><text y="3">DYN1</text></g>
<g id="n-TPR" transform="translate(96.2 400.9)"><use href="#b"/><text y="3">TPR</text></g>
<g id="n-SCRIB" transform="translate(132.8 400.9)"><use href="#b"/><text y="3">SCRIB</text></g>
<g id="n-PACN3" transform="translate(169.4 400.9)"><use href="#b"/><text y="3">PACN3</text></g>
<g id="n-AT131" transform="translate(206 400.9)"><use href="#b"/><text y="3">AT131</text></g>
<g id="n-B3A2" transform="translate(242.6 400.9)"><use href="#b"/><text y="3">B3A2</text></g>
<g id="n-IF2B3" transform="translate(279.2 400.9)"><use href="#b"/><text y="3">IF2B3</text></g>
<g id="n-TNPO1" transform="translate(315.8 400.9)"><use href="#b"/><text y="3">TNPO1</text></g>
<g id="n-WNK1" transform="translate(23 419.4)"><use href="#b"/><text y="3">WNK1</text></g>
<g id="n-ROA1" transform="translate(59.6 419.4)"><use href="#b"/><text y="3">ROA1</text></g>
<g id="n-SCAM1" transform="translate(96.2 419.4)"><use href="#b"/><text y="3">SCAM1</text></g>
<g id="n-TBC15" transform="translate(132.8 419.4)"><use href="#b"/><text y="3">TBC15</text></g>
<g id="n-KINH" transform="translate(169.4 419.4)"><use href="#b"/><text y="3">KINH</text></g>
<g id="n-ADDG" transform="translate(206 419.4)"><use href="#b"/><text y="3">ADDG</text></g>
<g id="n-COPG2" transform="translate(242.6 419.4)"><use href="#b"/><text y="3">COPG2</text></g>
<g id="n-ZFY16" transform="translate(279.2 419.4)"><use href="#b"/><text y="3">ZFY16</text></g>
<g id="n-QCR1" transform="translate(315.8 419.4)"><use href="#b"/><text y="3">QCR1</text></g>
<g id="n-ACSL4" transform="translate(23 437.9)"><use href="#b"/><text y="3">ACSL4</text></g>
<g id="n-S6A15" transform="translate(59.6 437.9)"><use href="#b"/><rect x="-2.5" y="-3.6" width="6" height="2.4" fill="#f2e600" stroke="none"/><text y="3">S6A15</text></g>
<g id="n-MOT1" transform="translate(96.2 437.9)"><use href="#b"/><text y="3">MOT1</text></g>
<g id="n-MPRI" transform="translate(132.8 437.9)"><use href="#b"/><text y="3">MPRI</text></g>
<g id="n-DD19A" transform="translate(169.4 437.9)"><use href="#b"/><text y="3">DD19A</text></g>
<g id="n-MAP1B" transform="translate(206 437.9)"><use href="#b"/><text y="3">MAP1B</text></g>
<g id="n-ANK2" transform="translate(242.6 437.9)"><use href="#b"/><text y="3">ANK2</text></g>
<g id="n-ESYT1" transform="translate(279.2 437.9)"><use href="#b"/><text y="3">ESYT1</text></g>
<g id="n-FLNA" transform="translate(315.8 437.9)"><use href="#b"/><text y="3">FLNA</text></g>
<g id="n-NED4L" transform="translate(23 456.5)"><use href="#b"/><text y="3">NED4L</text></g>
<g id="n-UBE2O" transform="translate(59.6 456.5)"><use href="#b"/><text y="3">UBE2O</text></g>
<g id="n-ASPC1" transform="translate(96.2 456.5)"><use href="#b"/><text y="3">ASPC1</text></g>
<g id="n-FUBP2" transform="translate(132.8 456.5)"><use href="#b"/><text y="3">FUBP2</text></g>
<g id="n-IF2B1" transform="translate(169.4 456.5)"><use href="#b"/><text y="3">IF2B1</text></g>
<g id="n-RABE1" transform="translate(206 456.5)"><use href="#b"/><text y="3">RABE1</text></g>
<g id="n-NECP2" transform="translate(242.6 456.5)"><use href="#b"/><text y="3">NECP2</text></g>
</g>

<!-- Cell Differentiation -->
<g class="cd">
<g id="n-AT2B2" transform="translate(28.8 541.8)"><use href="#b"/><text y="3">AT2B2</text></g>
<g id="n-TAGL2" transform="translate(65.6 541.8)"><use href="#b"/><text y="3">TAGL2</text></g>
<g id="n-TFR1" transform="translate(102.4 541.8)"><use href="#b"/><text y="3">TFR1</text></g>
<g id="n-JIP4" transform="translate(139.2 541.8)"><use href="#b"/><text y="3">JIP4</text></g>
<g id="n-ADDA" transform="translate(176 541.8)"><use href="#b"/><text y="3">ADDA</text></g>
<g id="n-THOC4" transform="translate(28.8 560.1)"><use href="#b"/><text y="3">THOC4</text></g>
<g id="n-LAT1" transform="translate(65.6 560.1)"><use href="#b"/><text y="3">LAT1</text></g>
<g id="n-RBM4" transform="translate(102.4 560.1)"><use href="#b"/><text y="3">RBM4</text></g>
<g id="n-LNP" transform="translate(139.2 560.1)"><use href="#b"/><text y="3">LNP</text></g>
<g id="n-BCL9L" transform="translate(176 560.1)"><use href="#b"/><text y="3">BCL9L</text></g>
<g id="n-CTBP1" transform="translate(28.8 578.5)"><use href="#b"/><text y="3">CTBP1</text></g>
<g id="n-FACD2" transform="translate(65.6 578.5)"><use href="#b"/><text y="3">FACD2</text></g>
<g id="n-HUWE1" transform="translate(102.4 578.5)"><use href="#b"/><text y="3">HUWE1</text></g>
<g id="n-CAH2" transform="translate(139.2 578.5)"><use href="#b"/><text y="3">CAH2</text></g>
<g id="n-PDLI7" transform="translate(176 578.5)"><use href="#b"/><text y="3">PDLI7</text></g>
<g id="n-SYIC" transform="translate(28.8 596.8)"><use href="#b"/><text y="3">SYIC</text></g>
<g id="n-PSD11" transform="translate(65.6 596.8)"><use href="#b"/><text y="3">PSD11</text></g>
<g id="n-PRC2C" transform="translate(102.4 596.8)"><use href="#b"/><text y="3">PRC2C</text></g>
<g id="n-FOXK2" transform="translate(139.2 596.8)"><use href="#b"/><text y="3">FOXK2</text></g>
<g id="n-FAS" transform="translate(176 596.8)"><use href="#b"/><text y="3">FAS</text></g>
<g id="n-SRSF1" transform="translate(28.8 615.1)"><use href="#b"/><text y="3">SRSF1</text></g>
<g id="n-HNRPU" transform="translate(65.6 615.1)"><use href="#b"/><text y="3">HNRPU</text></g>
<g id="n-SND1" transform="translate(102.4 615.1)"><use href="#b"/><text y="3">SND1</text></g>
<g id="n-NDRG3" transform="translate(139.2 615.1)"><use href="#b"/><text y="3">NDRG3</text></g>
<g id="n-VIME" transform="translate(176 615.1)"><use href="#b"/><text y="3">VIME</text></g>
<g id="n-OSB11" transform="translate(28.8 633.5)"><use href="#b"/><text y="3">OSB11</text></g>
<g id="n-YBOX1" transform="translate(65.6 633.5)"><use href="#b"/><text y="3">YBOX1</text></g>
<g id="n-LIMD1" transform="translate(102.4 633.5)"><use href="#b"/><text y="3">LIMD1</text></g>
<g id="n-MTA70" transform="translate(139.2 633.5)"><use href="#b"/><text y="3">MTA70</text></g>
<g id="n-CAND1" transform="translate(176 633.5)"><use href="#b"/><text y="3">CAND1</text></g>
<g id="n-CADH2" transform="translate(28.8 651.8)"><use href="#b"/><text y="3">CADH2</text></g>
<g id="n-ZN503" transform="translate(65.6 651.8)"><use href="#b"/><text y="3">ZN503</text></g>
<g id="n-DCAF1" transform="translate(102.4 651.8)"><use href="#b"/><text y="3">DCAF1</text></g>
<g id="n-MEP50" transform="translate(139.2 651.8)"><use href="#b"/><text y="3">MEP50</text></g>
<g id="n-FOXK1" transform="translate(176 651.8)"><use href="#b"/><text y="3">FOXK1</text></g>
</g>

<!-- Cell Signaling -->
<g class="cs">
<g id="n-ZYX" transform="translate(304.7 535)"><use href="#b"/><text y="3">ZYX</text></g>
<g id="n-ANS1A" transform="translate(341 535)"><use href="#b"/><text y="3">ANS1A</text></g>
<g id="n-STRN" transform="translate(377.7 535)"><use href="#b"/><text y="3">STRN</text></g>
<g id="n-PDE4B" transform="translate(304.7 553.6)"><use href="#b"/><text y="3">PDE4B</text></g>
<g id="n-RRAGB" transform="translate(341 553.6)"><use href="#b"/><text y="3">RRAGB</text></g>
<g id="n-LMNB1" transform="translate(377.7 553.6)"><use href="#b"/><text y="3">LMNB1</text></g>
<g id="n-4EBP1" transform="translate(304.7 572.2)"><use href="#b"/><text y="3">4EBP1</text></g>
<g id="n-ACTG" transform="translate(341 572.2)"><use href="#b"/><text y="3">ACTG</text></g>
<g id="n-WDR59" transform="translate(377.7 572.2)"><use href="#b"/><text y="3">WDR59</text></g>
<g id="n-MPZL1" transform="translate(304.7 590.8)"><use href="#b"/><text y="3">MPZL1</text></g>
<g id="n-PCD17" transform="translate(341 590.8)"><use href="#b"/><text y="3">PCD17</text></g>
<g id="n-AKA12" transform="translate(377.7 590.8)"><use href="#b"/><text y="3">AKA12</text></g>
<g id="n-AFAD" transform="translate(304.7 609.3)"><use href="#b"/><text y="3">AFAD</text></g>
<g id="n-PAXI" transform="translate(341 609.3)"><use href="#b"/><text y="3">PAXI</text></g>
</g>

<!-- Angiogenesis -->
<g class="an">
<g id="n-ATIF1" transform="translate(855.5 282.2)"><use href="#b"/><text y="3">ATIF1</text></g>
<g id="n-STIM1" transform="translate(891.7 282.2)"><use href="#b"/><text y="3">STIM1</text></g>
<g id="n-FOXC2" transform="translate(928.8 282.2)"><use href="#b"/><text y="3">FOXC2</text></g>
<g id="n-SIR1" transform="translate(855.5 300.4)"><use href="#b"/><text y="3">SIR1</text></g>
<g id="n-NUCL" transform="translate(891.7 300.4)"><use href="#b"/><text y="3">NUCL</text></g>
<g id="n-PARVA" transform="translate(928.8 300.4)"><use href="#b"/><text y="3">PARVA</text></g>
<g id="n-PLCG1" transform="translate(855.5 318.5)"><use href="#b"/><text y="3">PLCG1</text></g>
<g id="n-GTF2I" transform="translate(891.7 318.5)"><use href="#b"/><text y="3">GTF2I</text></g>
<g id="n-KPCA" transform="translate(928.8 318.5)"><use href="#b"/><text y="3">KPCA</text></g>
</g>

<!-- Proliferation -->
<g class="pr">
<g id="n-HAP28" transform="translate(1049.5 269.2)"><use href="#b"/><text y="3">HAP28</text></g>
<g id="n-BOP1" transform="translate(1086.3 269.2)"><use href="#b"/><text y="3">BOP1</text></g>
<g id="n-CDV3" transform="translate(1123 269.2)"><use href="#b"/><text y="3">CDV3</text></g>
<g id="n-TES" transform="translate(1049.5 287.4)"><use href="#b"/><text y="3">TES</text></g>
<g id="n-PSMG1" transform="translate(1086.3 287.4)"><use href="#b"/><text y="3">PSMG1</text></g>
<g id="n-NP1L1" transform="translate(1123 287.4)"><use href="#b"/><text y="3">NP1L1</text></g>
<g id="n-TACC3" transform="translate(1049.5 305.6)"><use href="#b"/><text y="3">TACC3</text></g>
<g id="n-DREB" transform="translate(1086.3 305.6)"><use href="#b"/><text y="3">DREB</text></g>
<g id="n-MARE1" transform="translate(1123 305.6)"><use href="#b"/><text y="3">MARE1</text></g>
<g id="n-TENS3" transform="translate(1049.5 323.8)"><use href="#b"/><text y="3">TENS3</text></g>
<g id="n-SART3" transform="translate(1086.3 323.8)"><use href="#b"/><text y="3">SART3</text></g>
</g>

<!-- Apoptotic processes -->
<g class="ap">
<g id="n-PSN1" transform="translate(500.3 458.3)"><use href="#b"/><text y="3">PSN1</text></g>
<g id="n-ADNP" transform="translate(537 458.3)"><use href="#b"/><text y="3">ADNP</text></g>
<g id="n-HS105" transform="translate(573.8 458.3)"><use href="#b"/><text y="3">HS105</text></g>
<g id="n-CXA1" transform="translate(610.5 458.3)"><use href="#b"/><text y="3">CXA1</text></g>
<g id="n-IGF1R" transform="translate(647.2 458.3)"><use href="#b"/><text y="3">IGF1R</text></g>
<g id="n-PSME3" transform="translate(684 458.3)"><use href="#b"/><text y="3">PSME3</text></g>
<g id="n-PP2AA" transform="translate(720.7 458.3)"><use href="#b"/><text y="3">PP2AA</text></g>
<g id="n-BAD" transform="translate(500.3 476.3)"><use href="#b"/><text y="3">BAD</text></g>
<g id="n-S35F6" transform="translate(537 476.3)"><use href="#b"/><text y="3">S35F6</text></g>
<g id="n-SRSF6" transform="translate(573.8 476.3)"><use href="#b"/><text y="3">SRSF6</text></g>
<g id="n-BBC3" transform="translate(610.5 476.3)"><use href="#b"/><text y="3">BBC3</text></g>
<g id="n-MEF2D" transform="translate(647.2 476.3)"><use href="#b"/><text y="3">MEF2D</text></g>
<g id="n-EF2K" transform="translate(684 476.3)"><use href="#b"/><text y="3">EF2K</text></g>
<g id="n-NQO1" transform="translate(720.7 476.3)"><use href="#b"/><text y="3">NQO1</text></g>
<g id="n-FGF8" transform="translate(500.3 494.4)"><use href="#b"/><text y="3">FGF8</text></g>
<g id="n-KANK2" transform="translate(537 494.4)"><use href="#b"/><text y="3">KANK2</text></g>
<g id="n-ATD3A" transform="translate(573.8 494.4)"><use href="#b"/><text y="3">ATD3A</text></g>
<g id="n-MBB1A" transform="translate(610.5 494.4)"><use href="#b"/><text y="3">MBB1A</text></g>
<g id="n-PDCD4" transform="translate(647.2 494.4)"><use href="#b"/><text y="3">PDCD4</text></g>
<g id="n-MFF" transform="translate(684 494.4)"><use href="#b"/><text y="3">MFF</text></g>
<g id="n-PDCD5" transform="translate(720.7 494.4)"><use href="#b"/><text y="3">PDCD5</text></g>
<g id="n-SET" transform="translate(500.3 512.4)"><use href="#b"/><text y="3">SET</text></g>
<g id="n-BIN1" transform="translate(537 512.4)"><use href="#b"/><text y="3">BIN1</text></g>
<g id="n-RRP1B" transform="translate(573.8 512.4)"><use href="#b"/><text y="3">RRP1B</text></g>
<g id="n-SORT" transform="translate(610.5 512.4)"><use href="#b"/><text y="3">SORT</text></g>
<g id="n-IF16" transform="translate(647.2 512.4)"><use href="#b"/><text y="3">IF16</text></g>
<g id="n-ENOA" transform="translate(684 512.4)"><use href="#b"/><text y="3">ENOA</text></g>
<g id="n-AIFM1" transform="translate(720.7 512.4)"><use href="#b"/><text y="3">AIFM1</text></g>
<g id="n-BIP" transform="translate(500.3 530.4)"><use href="#b"/><text y="3">BIP</text></g>
<g id="n-CCAR2" transform="translate(537 530.4)"><use href="#b"/><text y="3">CCAR2</text></g>
<g id="n-BRAT1" transform="translate(573.8 530.4)"><use href="#b"/><text y="3">BRAT1</text></g>
<g id="n-RS3" transform="translate(610.5 530.4)"><use href="#b"/><text y="3">RS3</text></g>
<g id="n-RS6" transform="translate(647.2 530.4)"><use href="#b"/><text y="3">RS6</text></g>
<g id="n-EI24" transform="translate(684 530.4)"><use href="#b"/><text y="3">EI24</text></g>
<g id="n-UBE4B" transform="translate(720.7 530.4)"><use href="#b"/><text y="3">UBE4B</text></g>
<g id="n-MCM2" transform="translate(500.3 548.5)"><use href="#b"/><text y="3">MCM2</text></g>
<g id="n-BAG3" transform="translate(537 548.5)"><use href="#b"/><text y="3">BAG3</text></g>
<g id="n-PRKDC" transform="translate(573.8 548.5)"><use href="#b"/><text y="3">PRKDC</text></g>
<g id="n-DFFB" transform="translate(610.5 548.5)"><use href="#b"/><text y="3">DFFB</text></g>
<g id="n-S30BP" transform="translate(647.2 548.5)"><use href="#b"/><text y="3">S30BP</text></g>
<g id="n-HAX1" transform="translate(684 548.5)"><use href="#b"/><text y="3">HAX1</text></g>
<g id="n-NMT1" transform="translate(720.7 548.5)"><use href="#b"/><text y="3">NMT1</text></g>
<g id="n-ICAL" transform="translate(500.3 566.5)"><use href="#b"/><text y="3">ICAL</text></g>
<g id="n-1433T" transform="translate(537 566.5)"><use href="#b"/><text y="3">1433T</text></g>
<g id="n-SDS3" transform="translate(573.8 566.5)"><use href="#b"/><text y="3">SDS3</text></g>
<g id="n-BAG6" transform="translate(610.5 566.5)"><use href="#b"/><text y="3">BAG6</text></g>
<g id="n-LMNA" transform="translate(647.2 566.5)"><use href="#b"/><text y="3">LMNA</text></g>
<g id="n-SPF30" transform="translate(684 566.5)"><use href="#b"/><text y="3">SPF30</text></g>
<g id="n-NOL3" transform="translate(720.7 566.5)"><use href="#b"/><text y="3">NOL3</text></g>
<g id="n-E41L3" transform="translate(500.3 584.5)"><use href="#b"/><text y="3">E41L3</text></g>
<g id="n-DBLOH" transform="translate(537 584.5)"><use href="#b"/><text y="3">DBLOH</text></g>
<g id="n-SQSTM" transform="translate(573.8 584.5)"><use href="#b"/><text y="3">SQSTM</text></g>
<g id="n-NIPA" transform="translate(610.5 584.5)"><use href="#b"/><text y="3">NIPA</text></g>
<g id="n-CH60" transform="translate(647.2 584.5)"><use href="#b"/><text y="3">CH60</text></g>
<g id="n-SIN3A" transform="translate(684 584.5)"><use href="#b"/><text y="3">SIN3A</text></g>
<g id="n-UBP47" transform="translate(720.7 584.5)"><use href="#b"/><text y="3">UBP47</text></g>
<g id="n-HS90B" transform="translate(500.3 602.5)"><use href="#b"/><text y="3">HS90B</text></g>
<g id="n-DNM1L" transform="translate(537 602.5)"><use href="#b"/><text y="3">DNM1L</text></g>
<g id="n-2AAA" transform="translate(573.8 602.5)"><use href="#b"/><text y="3">2AAA</text></g>
<g id="n-PDE3A" transform="translate(610.5 602.5)"><use href="#b"/><text y="3">PDE3A</text></g>
<g id="n-KPYM" transform="translate(648.8 605.8)"><use href="#b"/><text y="3">KPYM</text></g>
</g>

<!-- Unknown / unspecified -->
<g class="un">
<g id="n-CLPP" transform="translate(819.7 419.8)"><use href="#b"/><text y="3">CLPP</text></g>
<g id="n-NP1L4" transform="translate(856.1 419.8)"><use href="#b"/><text y="3">NP1L4</text></g>
<g id="n-CALD1" transform="translate(892.5 419.8)"><use href="#b"/><text y="3">CALD1</text></g>
<g id="n-IF2P" transform="translate(928.9 419.8)"><use href="#b"/><text y="3">IF2P</text></g>
<g id="n-SKIV2" transform="translate(965.3 419.8)"><use href="#b"/><text y="3">SKIV2</text></g>
<g id="n-E41L1" transform="translate(1001.7 419.8)"><use href="#b"/><text y="3">E41L1</text></g>
<g id="n-EH1L1" transform="translate(1038.1 419.8)"><use href="#b"/><text y="3">EH1L1</text></g>
<g id="n-N4BP1" transform="translate(1074.5 419.8)"><use href="#b"/><text y="3">N4BP1</text></g>
<g id="n-PSMD1" transform="translate(1110.9 419.8)"><use href="#b"/><text y="3">PSMD1</text></g>
<g id="n-RETR3" transform="translate(1147.3 419.8)"><use href="#b"/><text y="3">RETR3</text></g>
<g id="n-GLSK" transform="translate(819.7 438.2)"><use href="#b"/><text y="3">GLSK</text></g>
<g id="n-L1CAM" transform="translate(856.1 438.2)"><use href="#b"/><text y="3">L1CAM</text></g>
<g id="n-MAP4" transform="translate(892.5 438.2)"><use href="#b"/><text y="3">MAP4</text></g>
<g id="n-FKB10" transform="translate(928.9 438.2)"><use href="#b"/><text y="3">FKB10</text></g>
<g id="n-RNH2A" transform="translate(965.3 438.2)"><use href="#b"/><text y="3">RNH2A</text></g>
<g id="n-APT" transform="translate(1001.7 438.2)"><use href="#b"/><text y="3">APT</text></g>
<g id="n-SRPRB" transform="translate(1038.1 438.2)"><use href="#b"/><text y="3">SRPRB</text></g>
<g id="n-TJAP1" transform="translate(1074.5 438.2)"><use href="#b"/><text y="3">TJAP1</text></g>
<g id="n-TX264" transform="translate(1110.9 438.2)"><use href="#b"/><text y="3">TX264</text></g>
<g id="n-TBC24" transform="translate(1147.3 438.2)"><use href="#b"/><text y="3">TBC24</text></g>
<g id="n-CCHL" transform="translate(819.7 456.7)"><use href="#b"/><text y="3">CCHL</text></g>
<g id="n-MARCS" transform="translate(856.1 456.7)"><use href="#b"/><text y="3">MARCS</text></g>
<g id="n-UBP2L" transform="translate(892.5 456.7)"><use href="#b"/><text y="3">UBP2L</text></g>
<g id="n-OTU1" transform="translate(928.9 456.7)"><use href="#b"/><text y="3">OTU1</text></g>
<g id="n-RABX5" transform="translate(965.3 456.7)"><use href="#b"/><text y="3">RABX5</text></g>
<g id="n-CBSL" transform="translate(1001.7 456.7)"><use href="#b"/><text y="3">CBSL</text></g>
<g id="n-LRBA" transform="translate(1038.1 456.7)"><use href="#b"/><text y="3">LRBA</text></g>
<g id="n-HGH1" transform="translate(1074.5 456.7)"><use href="#b"/><text y="3">HGH1</text></g>
<g id="n-GNPTG" transform="translate(1110.9 456.7)"><use href="#b"/><text y="3">GNPTG</text></g>
<g id="n-ANCHR" transform="translate(1147.3 456.7)"><use href="#b"/><text y="3">ANCHR</text></g>
<g id="n-SLIK5" transform="translate(819.7 475.1)"><use href="#b"/><text y="3">SLIK5</text></g>
<g id="n-TEX10" transform="translate(856.1 475.1)"><use href="#b"/><text y="3">TEX10</text></g>
<g id="n-NUP93" transform="translate(892.5 475.1)"><use href="#b"/><text y="3">NUP93</text></g>
<g id="n-DDB2" transform="translate(928.9 475.1)"><use href="#b"/><text y="3">DDB2</text></g>
<g id="n-CCD86" transform="translate(965.3 475.1)"><use href="#b"/><text y="3">CCD86</text></g>
<g id="n-GRSF1" transform="translate(1001.7 475.1)"><use href="#b"/><text y="3">GRSF1</text></g>
<g id="n-MPP6" transform="translate(1038.1 475.1)"><use href="#b"/><text y="3">MPP6</text></g>
<g id="n-CX038" transform="translate(1074.5 475.1)"><use href="#b"/><text y="3">CX038</text></g>
<g id="n-ATX2L" transform="translate(1110.9 475.1)"><use href="#b"/><text y="3">ATX2L</text></g>
<g id="n-MLF2" transform="translate(1147.3 475.1)"><use href="#b"/><text y="3">MLF2</text></g>
<g id="n-ALG5" transform="translate(819.7 493.6)"><use href="#b"/><text y="3">ALG5</text></g>
<g id="n-EDC3" transform="translate(856.1 493.6)"><use href="#b"/><text y="3">EDC3</text></g>
<g id="n-CSRP1" transform="translate(892.5 493.6)"><use href="#b"/><text y="3">CSRP1</text></g>
<g id="n-HDGR2" transform="translate(928.9 493.6)"><use href="#b"/><text y="3">HDGR2</text></g>
<g id="n-PSA5" transform="translate(965.3 493.6)"><use href="#b"/><text y="3">PSA5</text></g>
<g id="n-P5CR1" transform="translate(1001.7 493.6)"><use href="#b"/><text y="3">P5CR1</text></g>
<g id="n-AMRP" transform="translate(1038.1 493.6)"><use href="#b"/><text y="3">AMRP</text></g>
<g id="n-TMX1" transform="translate(1074.5 493.6)"><use href="#b"/><text y="3">TMX1</text></g>
<g id="n-PTSS2" transform="translate(1110.9 493.6)"><use href="#b"/><text y="3">PTSS2</text></g>
<g id="n-STRP1" transform="translate(1147.3 493.6)"><use href="#b"/><text y="3">STRP1</text></g>
<g id="n-LAP2B" transform="translate(819.7 512)"><use href="#b"/><text y="3">LAP2B</text></g>
<g id="n-TOM34" transform="translate(856.1 512)"><use href="#b"/><text y="3">TOM34</text></g>
<g id="n-AHNK2" transform="translate(892.5 512)"><use href="#b"/><text y="3">AHNK2</text></g>
<g id="n-OST48" transform="translate(928.9 512)"><use href="#b"/><text y="3">OST48</text></g>
<g id="n-STRN4" transform="translate(965.3 512)"><use href="#b"/><text y="3">STRN4</text></g>
<g id="n-ZDHC5" transform="translate(1001.7 512)"><use href="#b"/><text y="3">ZDHC5</text></g>
<g id="n-ZC11A" transform="translate(1038.1 512)"><use href="#b"/><text y="3">ZC11A</text></g>
<g id="n-CCDC6" transform="translate(1074.5 512)"><use href="#b"/><text y="3">CCDC6</text></g>
<g id="n-TRUA" transform="translate(1110.9 512)"><use href="#b"/><text y="3">TRUA</text></g>
<g id="n-DIEXF" transform="translate(1147.3 512)"><use href="#b"/><text y="3">DIEXF</text></g>
<g id="n-ETFA" transform="translate(819.7 530.4)"><use href="#b"/><text y="3">ETFA</text></g>
<g id="n-PSA4" transform="translate(856.1 530.4)"><use href="#b"/><text y="3">PSA4</text></g>
<g id="n-PCKGM" transform="translate(892.5 530.4)"><use href="#b"/><text y="3">PCKGM</text></g>
<g id="n-DDX3Y" transform="translate(928.9 530.4)"><use href="#b"/><text y="3">DDX3Y</text></g>
<g id="n-PSMD8" transform="translate(965.3 530.4)"><use href="#b"/><text y="3">PSMD8</text></g>
<g id="n-MINY2" transform="translate(1001.7 530.4)"><use href="#b"/><text y="3">MINY2</text></g>
<g id="n-ABLM1" transform="translate(1038.1 530.4)"><use href="#b"/><text y="3">ABLM1</text></g>
<g id="n-BORC6" transform="translate(1074.5 530.4)"><use href="#b"/><text y="3">BORC6</text></g>
<g id="n-CTU2" transform="translate(1110.9 530.4)"><use href="#b"/><text y="3">CTU2</text></g>
<g id="n-CLCC1" transform="translate(1147.3 530.4)"><use href="#b"/><text y="3">CLCC1</text></g>
<g id="n-TMTC3" transform="translate(819.7 548.9)"><use href="#b"/><text y="3">TMTC3</text></g>
<g id="n-DBNL" transform="translate(856.1 548.9)"><use href="#b"/><text y="3">DBNL</text></g>
<g id="n-COQ8A" transform="translate(892.5 548.9)"><use href="#b"/><text y="3">COQ8A</text></g>
<g id="n-PP6R3" transform="translate(928.9 548.9)"><use href="#b"/><text y="3">PP6R3</text></g>
<g id="n-F122A" transform="translate(965.3 548.9)"><use href="#b"/><text y="3">F122A</text></g>
<g id="n-SMAP" transform="translate(1001.7 548.9)"><use href="#b"/><text y="3">SMAP</text></g>
<g id="n-TOM70" transform="translate(1038.1 548.9)"><use href="#b"/><text y="3">TOM70</text></g>
<g id="n-SYAM" transform="translate(1074.5 548.9)"><use href="#b"/><text y="3">SYAM</text></g>
<g id="n-EDC4" transform="translate(1110.9 548.9)"><use href="#b"/><text y="3">EDC4</text></g>
<g id="n-LIMC1" transform="translate(1147.3 548.9)"><use href="#b"/><text y="3">LIMC1</text></g>
<g id="n-SZRD1" transform="translate(819.7 567.3)"><use href="#b"/><text y="3">SZRD1</text></g>
<g id="n-SMC4" transform="translate(856.1 567.3)"><use href="#b"/><text y="3">SMC4</text></g>
<g id="n-WAP53" transform="translate(892.5 567.3)"><use href="#b"/><text y="3">WAP53</text></g>
<g id="n-NSF1C" transform="translate(928.9 567.3)"><use href="#b"/><text y="3">NSF1C</text></g>
<g id="n-RM40" transform="translate(965.3 567.3)"><use href="#b"/><text y="3">RM40</text></g>
<g id="n-MAP7" transform="translate(1001.7 567.3)"><use href="#b"/><text y="3">MAP7</text></g>
<g id="n-BD1L1" transform="translate(1038.1 567.3)"><use href="#b"/><text y="3">BD1L1</text></g>
<g id="n-PALMD" transform="translate(1074.5 567.3)"><use href="#b"/><text y="3">PALMD</text></g>
<g id="n-CALX" transform="translate(1110.9 567.3)"><use href="#b"/><text y="3">CALX</text></g>
<g id="n-CND2" transform="translate(1147.3 567.3)"><use href="#b"/><text y="3">CND2</text></g>
<g id="n-LIPA1" transform="translate(819.7 585.8)"><use href="#b"/><text y="3">LIPA1</text></g>
<g id="n-PSMD4" transform="translate(856.1 585.8)"><use href="#b"/><text y="3">PSMD4</text></g>
<g id="n-TOIP1" transform="translate(892.5 585.8)"><use href="#b"/><text y="3">TOIP1</text></g>
<g id="n-AKIP" transform="translate(928.9 585.8)"><use href="#b"/><text y="3">AKIP</text></g>
<g id="n-NU188" transform="translate(965.3 585.8)"><use href="#b"/><text y="3">NU188</text></g>
<g id="n-WDR44" transform="translate(1001.7 585.8)"><use href="#b"/><text y="3">WDR44</text></g>
<g id="n-CND1" transform="translate(1038.1 585.8)"><use href="#b"/><text y="3">CND1</text></g>
<g id="n-PTCD2" transform="translate(1074.5 585.8)"><use href="#b"/><text y="3">PTCD2</text></g>
<g id="n-CHD1L" transform="translate(1110.9 585.8)"><use href="#b"/><text y="3">CHD1L</text></g>
<g id="n-MAGD2" transform="translate(1147.3 585.8)"><use href="#b"/><text y="3">MAGD2</text></g>
<g id="n-HNRL2" transform="translate(819.7 604.2)"><use href="#b"/><text y="3">HNRL2</text></g>
<g id="n-ZN428" transform="translate(856.1 604.2)"><use href="#b"/><text y="3">ZN428</text></g>
<g id="n-KCD12" transform="translate(892.5 604.2)"><use href="#b"/><text y="3">KCD12</text></g>
<g id="n-CDS2" transform="translate(928.9 604.2)"><use href="#b"/><text y="3">CDS2</text></g>
<g id="n-P4R3A" transform="translate(965.3 604.2)"><use href="#b"/><text y="3">P4R3A</text></g>
<g id="n-PRS4" transform="translate(1001.7 604.2)"><use href="#b"/><text y="3">PRS4</text></g>
<g id="n-RETR2" transform="translate(1038.1 604.2)"><use href="#b"/><text y="3">RETR2</text></g>
<g id="n-MID51" transform="translate(1074.5 604.2)"><use href="#b"/><text y="3">MID51</text></g>
</g>
</g>

<!-- category headings -->
<g class="title">
<g id="t-transcription"><rect x="18.5" y="13.5" width="124" height="31"/><text x="30" y="33.5" textLength="90" lengthAdjust="spacingAndGlyphs">Transcription</text></g>
<g id="t-translation"><rect x="267" y="13.5" width="124.5" height="31"/><text x="278.5" y="33.5" textLength="75.5" lengthAdjust="spacingAndGlyphs">Translation</text></g>
<g id="t-metabolic"><rect x="544" y="13.5" width="182.5" height="31"/><text x="555" y="33.5" textLength="141" lengthAdjust="spacingAndGlyphs">Metabolic processes</text></g>
<g id="t-splicing"><rect x="837.5" y="13.5" width="123.5" height="31"/><text x="848.5" y="33.5" textLength="100" lengthAdjust="spacingAndGlyphs">mRNA Splicing</text></g>
<g id="t-cellcycle"><rect x="1028.5" y="13.5" width="87.5" height="31"/><text x="1040" y="33.5" textLength="64" lengthAdjust="spacingAndGlyphs">Cell-cycle</text></g>
<g id="t-transport"><rect x="12" y="243" width="99" height="30.5"/><text x="22.7" y="263" textLength="66.5" lengthAdjust="spacingAndGlyphs">Transport</text></g>
<g id="t-differentiation"><rect x="12" y="491" width="187.5" height="31"/><text x="22.7" y="511" textLength="129" lengthAdjust="spacingAndGlyphs">Cell Differentiation</text></g>
<g id="t-signaling"><rect x="281" y="491" width="118" height="31"/><text x="291" y="512" textLength="89.5" lengthAdjust="spacingAndGlyphs">Cell Signaling</text></g>
<g id="t-angiogenesis"><rect x="831" y="228" width="113" height="30.5"/><text x="841.7" y="250" textLength="97.5" lengthAdjust="spacingAndGlyphs">Angiogenesis</text></g>
<g id="t-proliferation"><rect x="1028.5" y="218.5" width="120" height="32"/><text x="1032.5" y="240" textLength="92.5" lengthAdjust="spacingAndGlyphs">Proliferation</text></g>
<g id="t-apoptotic"><rect x="479.5" y="407" width="170.5" height="31.5"/><text x="490.7" y="427.5" textLength="138.5" lengthAdjust="spacingAndGlyphs">Apoptotic processes</text></g>
<g id="t-unknown"><rect x="807" y="367.5" width="194" height="31.5"/><text x="818.3" y="388.5" textLength="156.5" lengthAdjust="spacingAndGlyphs">Unknown/ Unspecified</text></g>
</g>

<!-- hub protein -->
<g id="hub"><rect x="543.5" y="296" width="67.5" height="22.5" rx="3"/><text x="577.2" y="314.3">DYRK3</text></g>
</svg>
